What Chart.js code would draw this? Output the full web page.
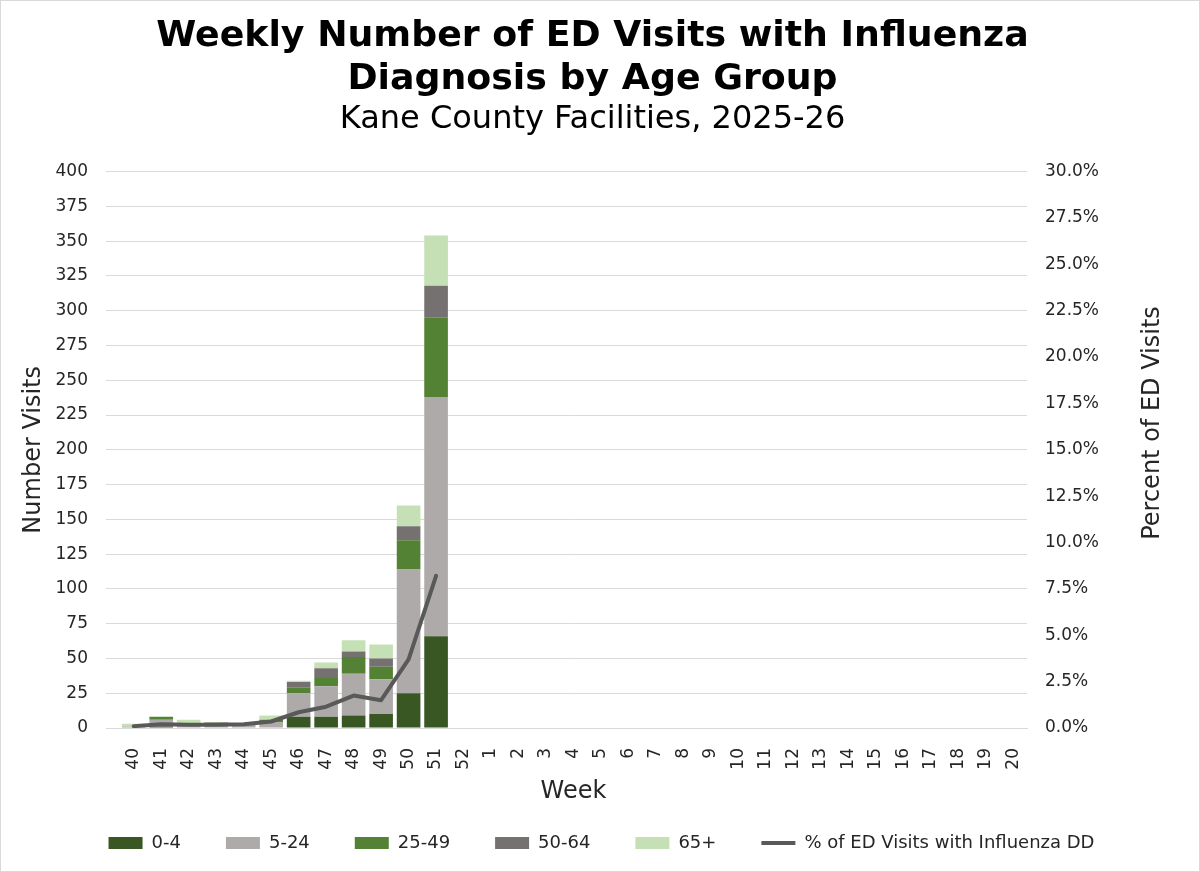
<!DOCTYPE html>
<html lang="en">
<head>
    <meta charset="UTF-8">
    <title>Weekly ED Visits with Influenza</title>
    <style>
        body { margin: 0; background: #fff; }
        #chart {
            width: 1200px;
            height: 872px;
            box-sizing: border-box;
            border: 1px solid #d9d9d9;
        }
    </style>
</head>
<body>
    <div id="chart"><canvas id="c"></canvas></div>
<script src="https://cdn.jsdelivr.net/npm/chart.js@4.4.1/dist/chart.umd.min.js"></script>
<script>
    const weeks = ['40','41','42','43','44','45','46','47','48','49','50','51','52',
        '1','2','3','4','5','6','7','8','9','10','11','12','13','14','15','16','17','18','19','20'];
    const age0to4   = [0, 1, 0, 0, 0, 0, 8, 8, 9, 10, 25, 66];
    const age5to24  = [1, 5, 2, 3, 3, 4, 17, 22, 30, 25, 89, 172];
    const age25to49 = [0, 2, 0, 1, 0, 2, 4, 6, 12, 9, 21, 57];
    const age50to64 = [0, 0, 0, 0, 0, 0, 4, 7, 4, 6, 10, 23];
    const age65plus = [2, 0, 4, 0, 0, 3, 1, 4, 8, 10, 15, 36];
    const pctFlu    = [0.1, 0.2, 0.18, 0.17, 0.2, 0.35, 0.85, 1.15, 1.75, 1.5, 3.7, 8.2];

    const font = 'DejaVu Sans';
    const txt = '#262626';
    const gridColor = '#d9d9d9';

    const bar = (label, data, color) => ({
        type: 'bar', label, data, backgroundColor: color, borderWidth: 0,
        pointStyle: 'rect', yAxisID: 'y', order: 1,
        barPercentage: 0.86, categoryPercentage: 1
    });

    // fixed legend height so the x axis title and legend sit where they should,
    // and nudge the legend row a little to the right
    const legendFix = {
        id: 'legendFix',
        afterInit(chart) {
            const lg = chart.legend;
            const fit = lg.fit.bind(lg);
            const draw = lg.draw.bind(lg);
            lg.fit = function () { fit(); this.height = 82; };
            lg.draw = function () {
                chart.ctx.save();
                chart.ctx.translate(9, 0);
                draw();
                chart.ctx.restore();
            };
        }
    };

    // gridlines start a bit left of the plot, right axis title reads bottom-to-top
    const extras = {
        id: 'extras',
        beforeDatasetsDraw(chart) {
            const { ctx, chartArea } = chart;
            const y = chart.scales.y;
            ctx.save();
            ctx.strokeStyle = gridColor;
            ctx.lineWidth = 1;
            y.ticks.forEach(t => {
                const py = Math.round(y.getPixelForValue(t.value) - 0.5) + 0.5;
                ctx.beginPath();
                ctx.moveTo(105, py);
                ctx.lineTo(chartArea.left, py);
                ctx.stroke();
            });
            ctx.restore();
        },
        afterDraw(chart) {
            const ctx = chart.ctx;
            ctx.save();
            ctx.translate(1152, 422);
            ctx.rotate(-Math.PI / 2);
            ctx.fillStyle = txt;
            ctx.font = '24px "' + font + '"';
            ctx.textAlign = 'center';
            ctx.textBaseline = 'middle';
            ctx.fillText('Percent of ED Visits', 0, 0);
            ctx.restore();
        }
    };

    new Chart(document.getElementById('c'), {
        data: {
            labels: weeks,
            datasets: [
                bar('0-4', age0to4, '#385723'),
                bar('5-24', age5to24, '#aeaaaa'),
                bar('25-49', age25to49, '#548235'),
                bar('50-64', age50to64, '#767171'),
                bar('65+', age65plus, '#c5e0b4'),
                {
                    type: 'line', label: '% of ED Visits with Influenza DD', data: pctFlu,
                    borderColor: '#595959', backgroundColor: '#595959', borderWidth: 4,
                    pointRadius: 0, pointStyle: 'line', tension: 0, yAxisID: 'y1', order: 0,
                    borderCapStyle: 'round', borderJoinStyle: 'round'
                }
            ]
        },
        plugins: [legendFix, extras],
        options: {
            responsive: true,
            maintainAspectRatio: false,
            animation: false,
            layout: { padding: { left: 15, right: 30, top: 0, bottom: 0 } },
            plugins: {
                title: {
                    display: true,
                    text: ['Weekly Number of ED Visits with Influenza', 'Diagnosis by Age Group'],
                    color: '#000',
                    font: { family: font, size: 36.3, weight: 'bold', lineHeight: 1.16 },
                    padding: { top: 15, bottom: 0 }
                },
                subtitle: {
                    display: true,
                    text: 'Kane County Facilities, 2025-26',
                    color: '#000',
                    font: { family: font, size: 32, lineHeight: 1.2 },
                    padding: { top: 0, bottom: 33 }
                },
                legend: {
                    position: 'bottom',
                    labels: {
                        usePointStyle: true,
                        pointStyleWidth: 34,
                        boxHeight: 12,
                        padding: 45,
                        color: txt,
                        font: { family: font, size: 18 },
                        sort: (a, b) => a.datasetIndex - b.datasetIndex
                    }
                },
                tooltip: { enabled: false }
            },
            scales: {
                x: {
                    stacked: true,
                    grid: { display: false },
                    border: { color: gridColor },
                    ticks: { color: txt, font: { family: font, size: 17 }, minRotation: 90, maxRotation: 90, padding: 12, autoSkip: false },
                    title: { display: true, text: 'Week', color: txt, font: { family: font, size: 24 }, padding: { top: 0, bottom: -17 } },
                    afterFit: (s) => { s.height = 61; }
                },
                y: {
                    stacked: true,
                    position: 'left',
                    min: 0, max: 400,
                    grid: { color: gridColor, drawTicks: false },
                    border: { display: false },
                    ticks: { stepSize: 25, color: txt, font: { family: font, size: 17 }, padding: 32 },
                    title: { display: true, text: 'Number Visits', color: txt, font: { family: font, size: 24 }, padding: 3 },
                    afterFit: (s) => { s.width = 104; }
                },
                y1: {
                    position: 'right',
                    min: 0, max: 30,
                    grid: { display: false, drawTicks: false },
                    border: { display: false },
                    ticks: { stepSize: 2.5, color: txt, font: { family: font, size: 17 }, padding: 18,
                        callback: (v) => v.toFixed(1) + '%' },
                    afterFit: (s) => { s.width = 142; }
                }
            }
        }
    });
</script>
</body>
</html>
